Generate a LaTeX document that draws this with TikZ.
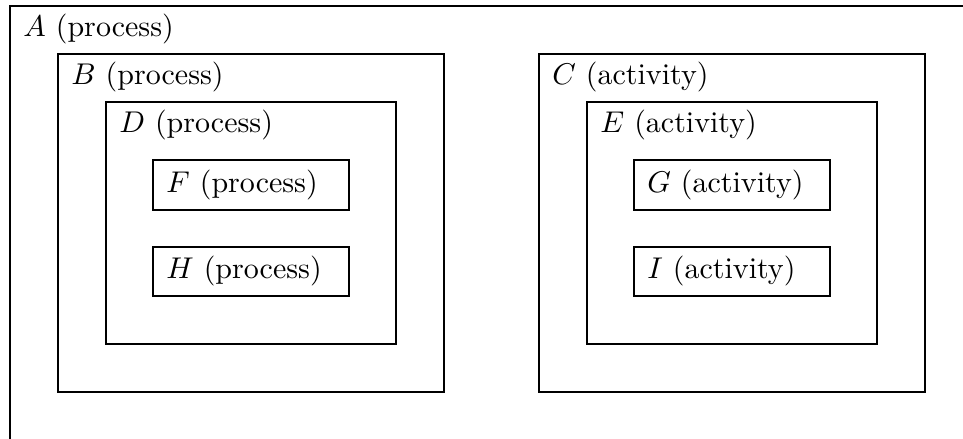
\documentclass[tikz,border=0pt]{standalone}
\usetikzlibrary{fit,calc}
\begin{document}
\begin{tikzpicture}[x=0.3333pt,y=-0.3333pt,
  box/.style={draw, line width=0.8pt, inner sep=0pt},
  lbl/.style={inner sep=0pt, anchor=base west},
  inlbl/.style={inner sep=0pt, anchor=west}]
\useasboundingbox (0,0) rectangle (963,439);
% outermost frame runs past the page edge
\begin{scope}
  \clip (0,0) rectangle (963,439);
  \node[box, fit={(10,6) (990,470)}] (A) {};
\end{scope}
\node[lbl] (Al) at ($(A.north west)+(14,32)$) {$A$ (process)};

% process branch
\node[box, fit={(58,54) (444,392)}] (B) {};
\node[lbl] (Bl) at ($(B.north west)+(14,32)$) {$B$ (process)};
\node[box, fit={(106,102) (396,344)}] (D) {};
\node[lbl] (Dl) at ($(D.north west)+(14,32)$) {$D$ (process)};
\node[box, fit={(153,160) (349,210)}] (F) {};
\node[inlbl] (Fl) at ($(F.west)+(14,0)$) {$F$ (process)};
\node[box, fit={(153,247) (349,296)}] (H) {};
\node[inlbl] (Hl) at ($(H.west)+(14,0)$) {$H$ (process)};

% activity branch
\node[box, fit={(539,54) (925,392)}] (C) {};
\node[lbl] (Cl) at ($(C.north west)+(14,32)$) {$C$ (activity)};
\node[box, fit={(587,102) (877,344)}] (E) {};
\node[lbl] (El) at ($(E.north west)+(14,32)$) {$E$ (activity)};
\node[box, fit={(634,160) (830,210)}] (G) {};
\node[inlbl] (Gl) at ($(G.west)+(14,0)$) {$G$ (activity)};
\node[box, fit={(634,247) (830,296)}] (I) {};
\node[inlbl] (Il) at ($(I.west)+(14,0)$) {$I$ (activity)};
\end{tikzpicture}
\end{document}
